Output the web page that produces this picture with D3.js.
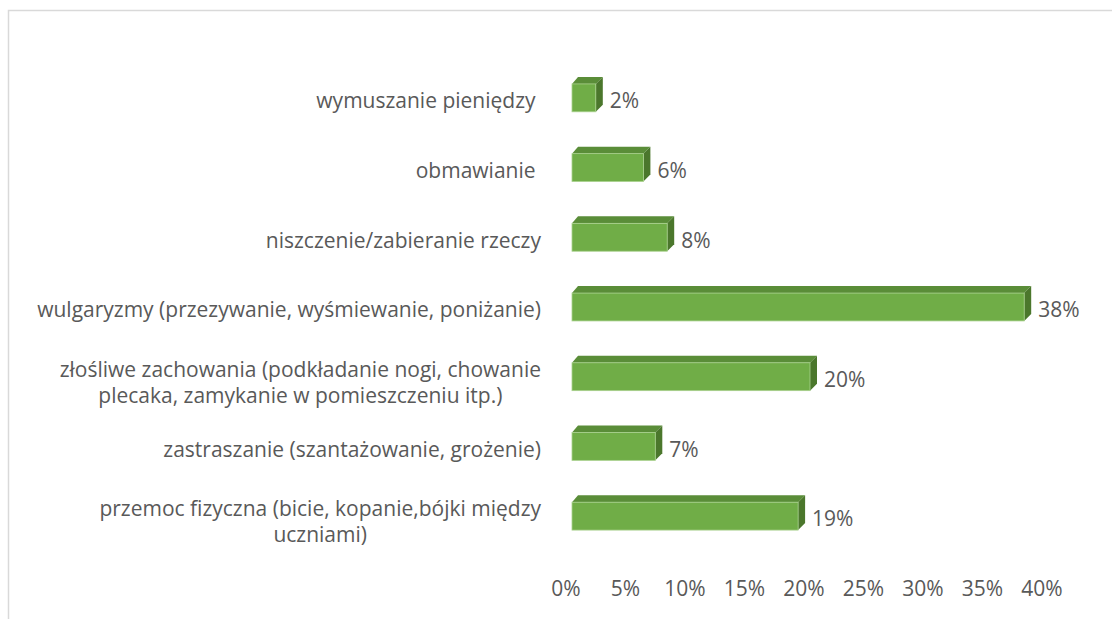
<!DOCTYPE html>
<html>
<head>
<meta charset="utf-8">
<script src="https://cdn.jsdelivr.net/npm/d3@7"></script>
<style>
  html, body { margin: 0; padding: 0; background: #fff; }
  svg { display: block; }
  text { font-family: "Open Sans", "Noto Sans", sans-serif; fill: #595959; }
</style>
</head>
<body>
<svg id="chart" width="1112" height="619"></svg>
<script>
// ---- data ----
const categories = [
  ["wymuszanie pieniędzy "],
  ["obmawianie "],
  ["niszczenie/zabieranie rzeczy"],
  ["wulgaryzmy (przezywanie, wyśmiewanie, poniżanie)"],
  ["złośliwe zachowania (podkładanie nogi, chowanie", "plecaka, zamykanie w pomieszczeniu itp.)"],
  ["zastraszanie (szantażowanie, grożenie)"],
  ["przemoc fizyczna (bicie, kopanie,bójki między", "uczniami)"]
];
const values = [2, 6, 8, 38, 20, 7, 19];
const xTicks = [0, 5, 10, 15, 20, 25, 30, 35, 40];

// ---- layout ----
const svg = d3.select("#chart");
const depthX = 7, depthY = 7;

// fit font size so the longest label spans ~512px (as in the reference)
const probe = svg.append("text").attr("font-size", 20).text(categories[3][0]);
const probeW = probe.node().getComputedTextLength();
probe.remove();
const fontSize = Math.max(14, Math.min(21, 20 * 512 / probeW));

// frame border
svg.append("path")
  .attr("d", "M8.5,619 L8.5,10.5 L1112,10.5")
  .attr("fill", "none").attr("stroke", "#d9d9d9").attr("stroke-width", 1.5);

const x = d3.scaleLinear().domain([0, 40]).range([572, 1048]);
const y = d3.scaleBand().domain(d3.range(categories.length))
  .range([63, 551]).paddingInner(0.6).paddingOuter(0.3);

const g = svg.append("g");
const bars = g.selectAll("g.bar").data(values).join("g").attr("class", "bar");

// top face
bars.append("path")
  .attr("fill", "#5a8d38")
  .attr("d", (d, i) => {
    const x0 = x(0), x1 = x(d), y0 = y(i);
    return `M${x0},${y0} L${x0 + depthX - 1},${y0 - depthY} L${x1 + depthX},${y0 - depthY} L${x1},${y0} Z`;
  });
// side face
bars.append("path")
  .attr("fill", "#4b772c")
  .attr("d", (d, i) => {
    const x1 = x(d), y0 = y(i), y1 = y(i) + y.bandwidth();
    return `M${x1},${y0} L${x1 + depthX},${y0 - depthY} L${x1 + depthX},${y1 - depthY} L${x1},${y1} Z`;
  });
// front face
bars.append("rect")
  .attr("x", x(0))
  .attr("y", (d, i) => y(i))
  .attr("width", d => x(d) - x(0))
  .attr("height", y.bandwidth())
  .attr("fill", "#70ad47")
  .attr("stroke", "#a9d18e").attr("stroke-width", 0.8);

// data labels
g.selectAll("text.val").data(values).join("text")
  .attr("class", "val")
  .attr("x", d => x(d) + depthX + 7)
  .attr("y", (d, i) => y(i) + y.bandwidth() / 2 + 3)
  .attr("dy", "0.35em")
  .attr("font-size", fontSize)
  .text(d => d + "%");

// category labels
const labelRight = 541;
const lineH = 26;
categories.forEach((lines, i) => {
  const c = y(i) + y.bandwidth() / 2;
  const n = lines.length;
  const t = g.append("text").attr("font-size", fontSize).style("white-space", "pre");
  const spans = lines.map(ln => t.append("tspan").text(ln));
  const widths = spans.map(s => s.node().getComputedTextLength());
  const maxW = d3.max(widths);
  if (n === 1) {
    spans[0].attr("x", labelRight).attr("y", c + 3).attr("dy", "0.35em");
    t.attr("text-anchor", "end");
  } else {
    const cx = labelRight - maxW / 2;
    const mid = c + 13; // midpoint of the baselines
    t.attr("text-anchor", "middle");
    spans.forEach((s, k) => s.attr("x", cx).attr("y", mid + (k - (n - 1) / 2) * lineH));
  }
});

// x axis tick labels (no axis line)
g.selectAll("text.tick").data(xTicks).join("text")
  .attr("class", "tick")
  .attr("x", d => x(d) - 6)
  .attr("y", 589)
  .attr("dy", "0.35em")
  .attr("text-anchor", "middle")
  .attr("font-size", fontSize)
  .text(d => d + "%");
</script>
</body>
</html>
